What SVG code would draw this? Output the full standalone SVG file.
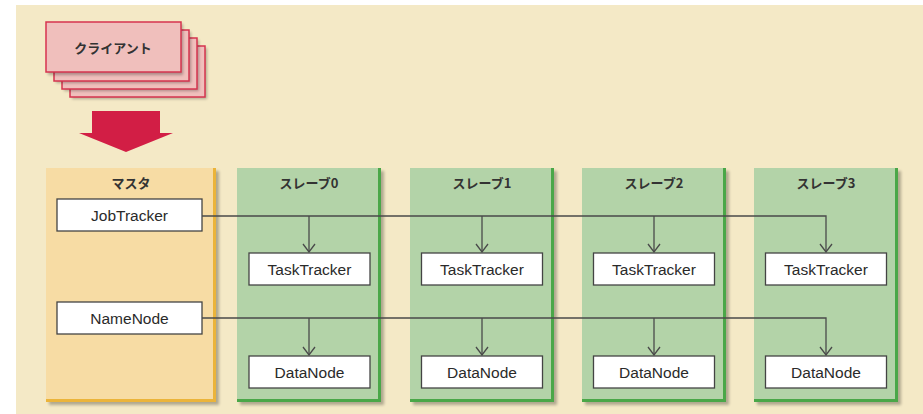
<svg xmlns="http://www.w3.org/2000/svg" width="923" height="414" viewBox="0 0 923 414">
<defs>
<filter id="sh" x="-10%" y="-10%" width="130%" height="130%">
<feGaussianBlur stdDeviation="1.5"/>
</filter>
<marker id="arr" markerWidth="10" markerHeight="14" refX="9" refY="7" orient="auto" markerUnits="userSpaceOnUse" viewBox="0 0 10 14">
<path d="M1,1 L9,7 L1,13" fill="none" stroke="#4a4a4a" stroke-width="1.3"/>
</marker>
</defs>
<style>
.bg{fill:#f4e9c6}
.shadow{fill:#000;opacity:0.28;filter:url(#sh)}
.client{fill:#f0bfbc;stroke:#d6344f;stroke-width:1.5}
.master{fill:#f7dca4}
.mEdge{fill:none;stroke:#ebb43a;stroke-width:3}
.slave{fill:#b3d3a8}
.sEdge{fill:none;stroke:#4aa748;stroke-width:3}
.box{fill:#fff;stroke:#444;stroke-width:1.3}
.lbl{font-family:"Liberation Sans","Noto Sans CJK JP",sans-serif;font-size:15.5px;fill:#2a2a2a;text-anchor:middle}
.ttl{font-family:"Noto Sans CJK JP","Liberation Sans",sans-serif;font-size:13px;font-weight:bold;fill:#333;text-anchor:middle}
.con{fill:none;stroke:#4a4a4a;stroke-width:1.3}
</style>
<rect class="bg" x="16" y="5" width="907" height="409"/>

<g id="client">
<rect class="shadow" x="72" y="48" width="135" height="51"/>
<rect class="client" x="70" y="46" width="135" height="51"/>
<rect class="shadow" x="64" y="40" width="135" height="51"/>
<rect class="client" x="62" y="38" width="135" height="51"/>
<rect class="shadow" x="56" y="32" width="135" height="51"/>
<rect class="client" x="54" y="30" width="135" height="51"/>
<rect class="shadow" x="48" y="24" width="135" height="51"/>
<rect class="client" x="46" y="22" width="135" height="50"/>
<text class="ttl" x="113" y="53">クライアント</text>
</g>

<g id="bigArrow">
<path d="M92,111 L160,111 L160,133 L173,133 L126,152 L79,133 L92,133 Z" fill="#d21e45"/>
</g>

<g id="master">
<rect class="shadow" x="49" y="171" width="170" height="234"/>
<rect class="master" x="46" y="168" width="170" height="234"/>
<path class="mEdge" d="M214.5,168 L214.5,400.5 L46,400.5"/>
<text class="ttl" x="131" y="188">マスタ</text>
<g id="jobtracker">
<rect class="box" x="57" y="199" width="145" height="32"/>
<text class="lbl" x="129.5" y="220.5">JobTracker</text>
</g>
<g id="namenode">
<rect class="box" x="57" y="302" width="145" height="32"/>
<text class="lbl" x="129.5" y="323.5">NameNode</text>
</g>
</g>

<g id="slave0">
<rect class="shadow" x="240" y="171" width="144" height="234"/>
<rect class="slave" x="237" y="168" width="144" height="234"/>
<path class="sEdge" d="M379.5,168 L379.5,400.5 L237,400.5"/>
<text class="ttl" x="309" y="188">スレーブ0</text>
<rect class="box" x="249" y="253" width="121" height="32"/>
<text class="lbl" x="309.5" y="274.5">TaskTracker</text>
<rect class="box" x="249" y="356" width="121" height="32"/>
<text class="lbl" x="309.5" y="377.5">DataNode</text>
</g>

<g id="slave1">
<rect class="shadow" x="413" y="171" width="144" height="234"/>
<rect class="slave" x="410" y="168" width="144" height="234"/>
<path class="sEdge" d="M552.5,168 L552.5,400.5 L410,400.5"/>
<text class="ttl" x="482" y="188">スレーブ1</text>
<rect class="box" x="421.5" y="253" width="121" height="32"/>
<text class="lbl" x="482" y="274.5">TaskTracker</text>
<rect class="box" x="421.5" y="356" width="121" height="32"/>
<text class="lbl" x="482" y="377.5">DataNode</text>
</g>

<g id="slave2">
<rect class="shadow" x="585" y="171" width="144" height="234"/>
<rect class="slave" x="582" y="168" width="144" height="234"/>
<path class="sEdge" d="M724.5,168 L724.5,400.5 L582,400.5"/>
<text class="ttl" x="654" y="188">スレーブ2</text>
<rect class="box" x="593.5" y="253" width="121" height="32"/>
<text class="lbl" x="654" y="274.5">TaskTracker</text>
<rect class="box" x="593.5" y="356" width="121" height="32"/>
<text class="lbl" x="654" y="377.5">DataNode</text>
</g>

<g id="slave3">
<rect class="shadow" x="757" y="171" width="144" height="234"/>
<rect class="slave" x="754" y="168" width="144" height="234"/>
<path class="sEdge" d="M896.5,168 L896.5,400.5 L754,400.5"/>
<text class="ttl" x="826" y="188">スレーブ3</text>
<rect class="box" x="765.5" y="253" width="121" height="32"/>
<text class="lbl" x="826" y="274.5">TaskTracker</text>
<rect class="box" x="765.5" y="356" width="121" height="32"/>
<text class="lbl" x="826" y="377.5">DataNode</text>
</g>

<g id="connectors">
<path class="con" d="M202,216 L826,216 L826,252" marker-end="url(#arr)"/>
<path class="con" d="M309,216 L309,252" marker-end="url(#arr)"/>
<path class="con" d="M482,216 L482,252" marker-end="url(#arr)"/>
<path class="con" d="M654,216 L654,252" marker-end="url(#arr)"/>
<path class="con" d="M202,318 L826,318 L826,355" marker-end="url(#arr)"/>
<path class="con" d="M309,318 L309,355" marker-end="url(#arr)"/>
<path class="con" d="M482,318 L482,355" marker-end="url(#arr)"/>
<path class="con" d="M654,318 L654,355" marker-end="url(#arr)"/>
</g>
</svg>
